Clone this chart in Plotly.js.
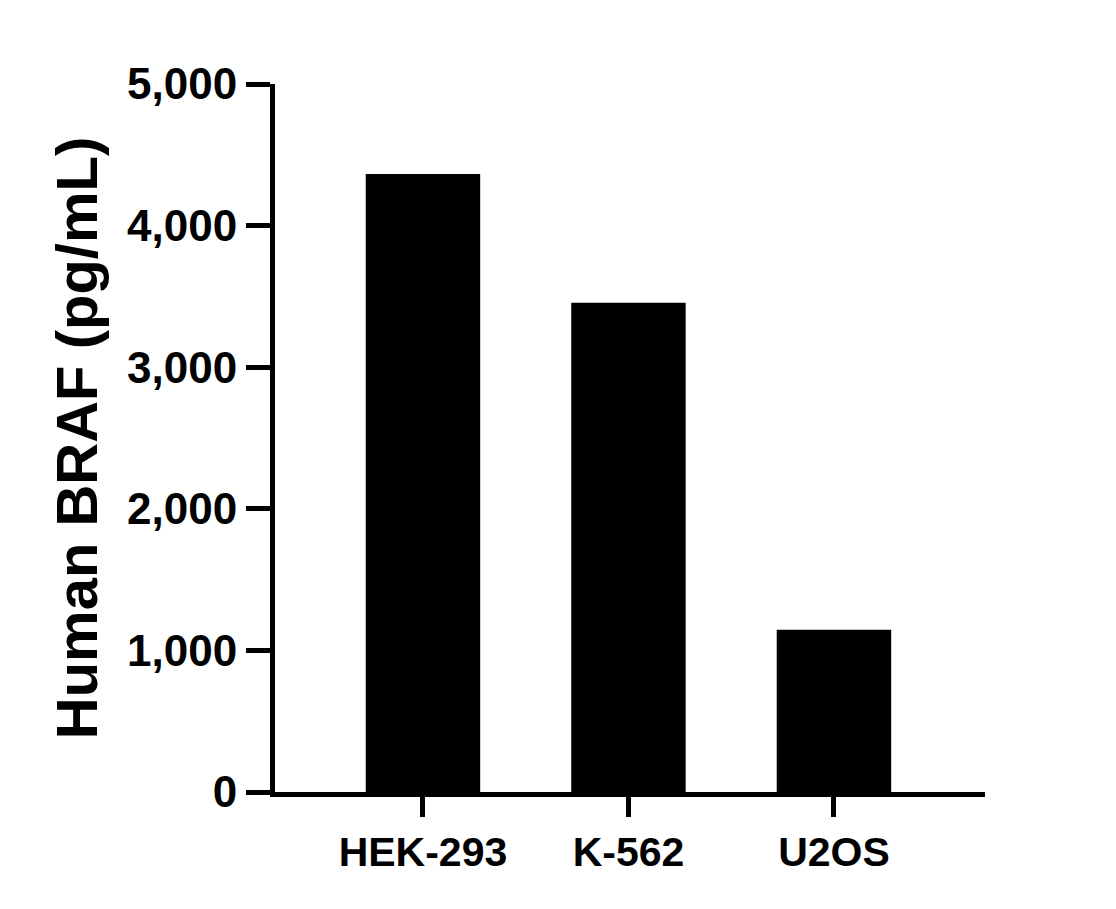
<!DOCTYPE html>
<html>
<head>
<meta charset="utf-8">
<script src="https://cdn.plot.ly/plotly-3.0.1.min.js"></script>
<style>
  html, body { margin: 0; padding: 0; background: #fff; }
  #myPlot { width: 1116px; height: 909px; }
</style>
</head>
<body>
<div id="myPlot"></div>
<script>
var cellLines = ["HEK-293", "K-562", "U2OS"];
var brafLevels = [4365, 3455, 1145];

var yTickVals = [0, 1000, 2000, 3000, 4000, 5000];
var yTickText = ["0", "1,000", "2,000", "3,000", "4,000", "5,000"];

var font = "Liberation Sans, Arial, sans-serif";

// Black bars
var trace1 = {
    x: cellLines,
    y: brafLevels,
    type: 'bar',
    width: 0.557,
    marker: { color: '#000000', line: { width: 0 } },
    showlegend: false,
    hoverinfo: 'none'
}

var layout = {
    width: 1116,
    height: 909,
    margin: { l: 275, r: 131, t: 84, b: 117 },
    paper_bgcolor: '#fff',
    plot_bgcolor: '#fff',
    font: { family: font, color: '#000', size: 40 },
    xaxis: {
        range: [-0.72, 2.735],
        showgrid: false,
        zeroline: false,
        showline: true,
        linewidth: 5,
        linecolor: '#000',
        ticks: 'outside',
        ticklen: 20,
        tickwidth: 5,
        tickcolor: '#000',
        tickfont: { family: font, size: 41, weight: 'bold' },
        fixedrange: true
    },
    yaxis: {
        range: [0, 5000],
        tickvals: yTickVals,
        ticktext: yTickText,
        showgrid: false,
        zeroline: false,
        showline: true,
        linewidth: 5,
        linecolor: '#000',
        ticks: 'outside',
        ticklen: 24,
        tickwidth: 5,
        tickcolor: '#000',
        tickfont: { family: font, size: 44, weight: 'bold' },
        title: { text: 'Human BRAF (pg/mL)', standoff: 12, font: { family: font, size: 58, weight: 'bold' } },
        automargin: true,
        fixedrange: true
    }
}

var config = { staticPlot: true, displayModeBar: false };

Plotly.newPlot("myPlot", [trace1], layout, config);
</script>
</body>
</html>
